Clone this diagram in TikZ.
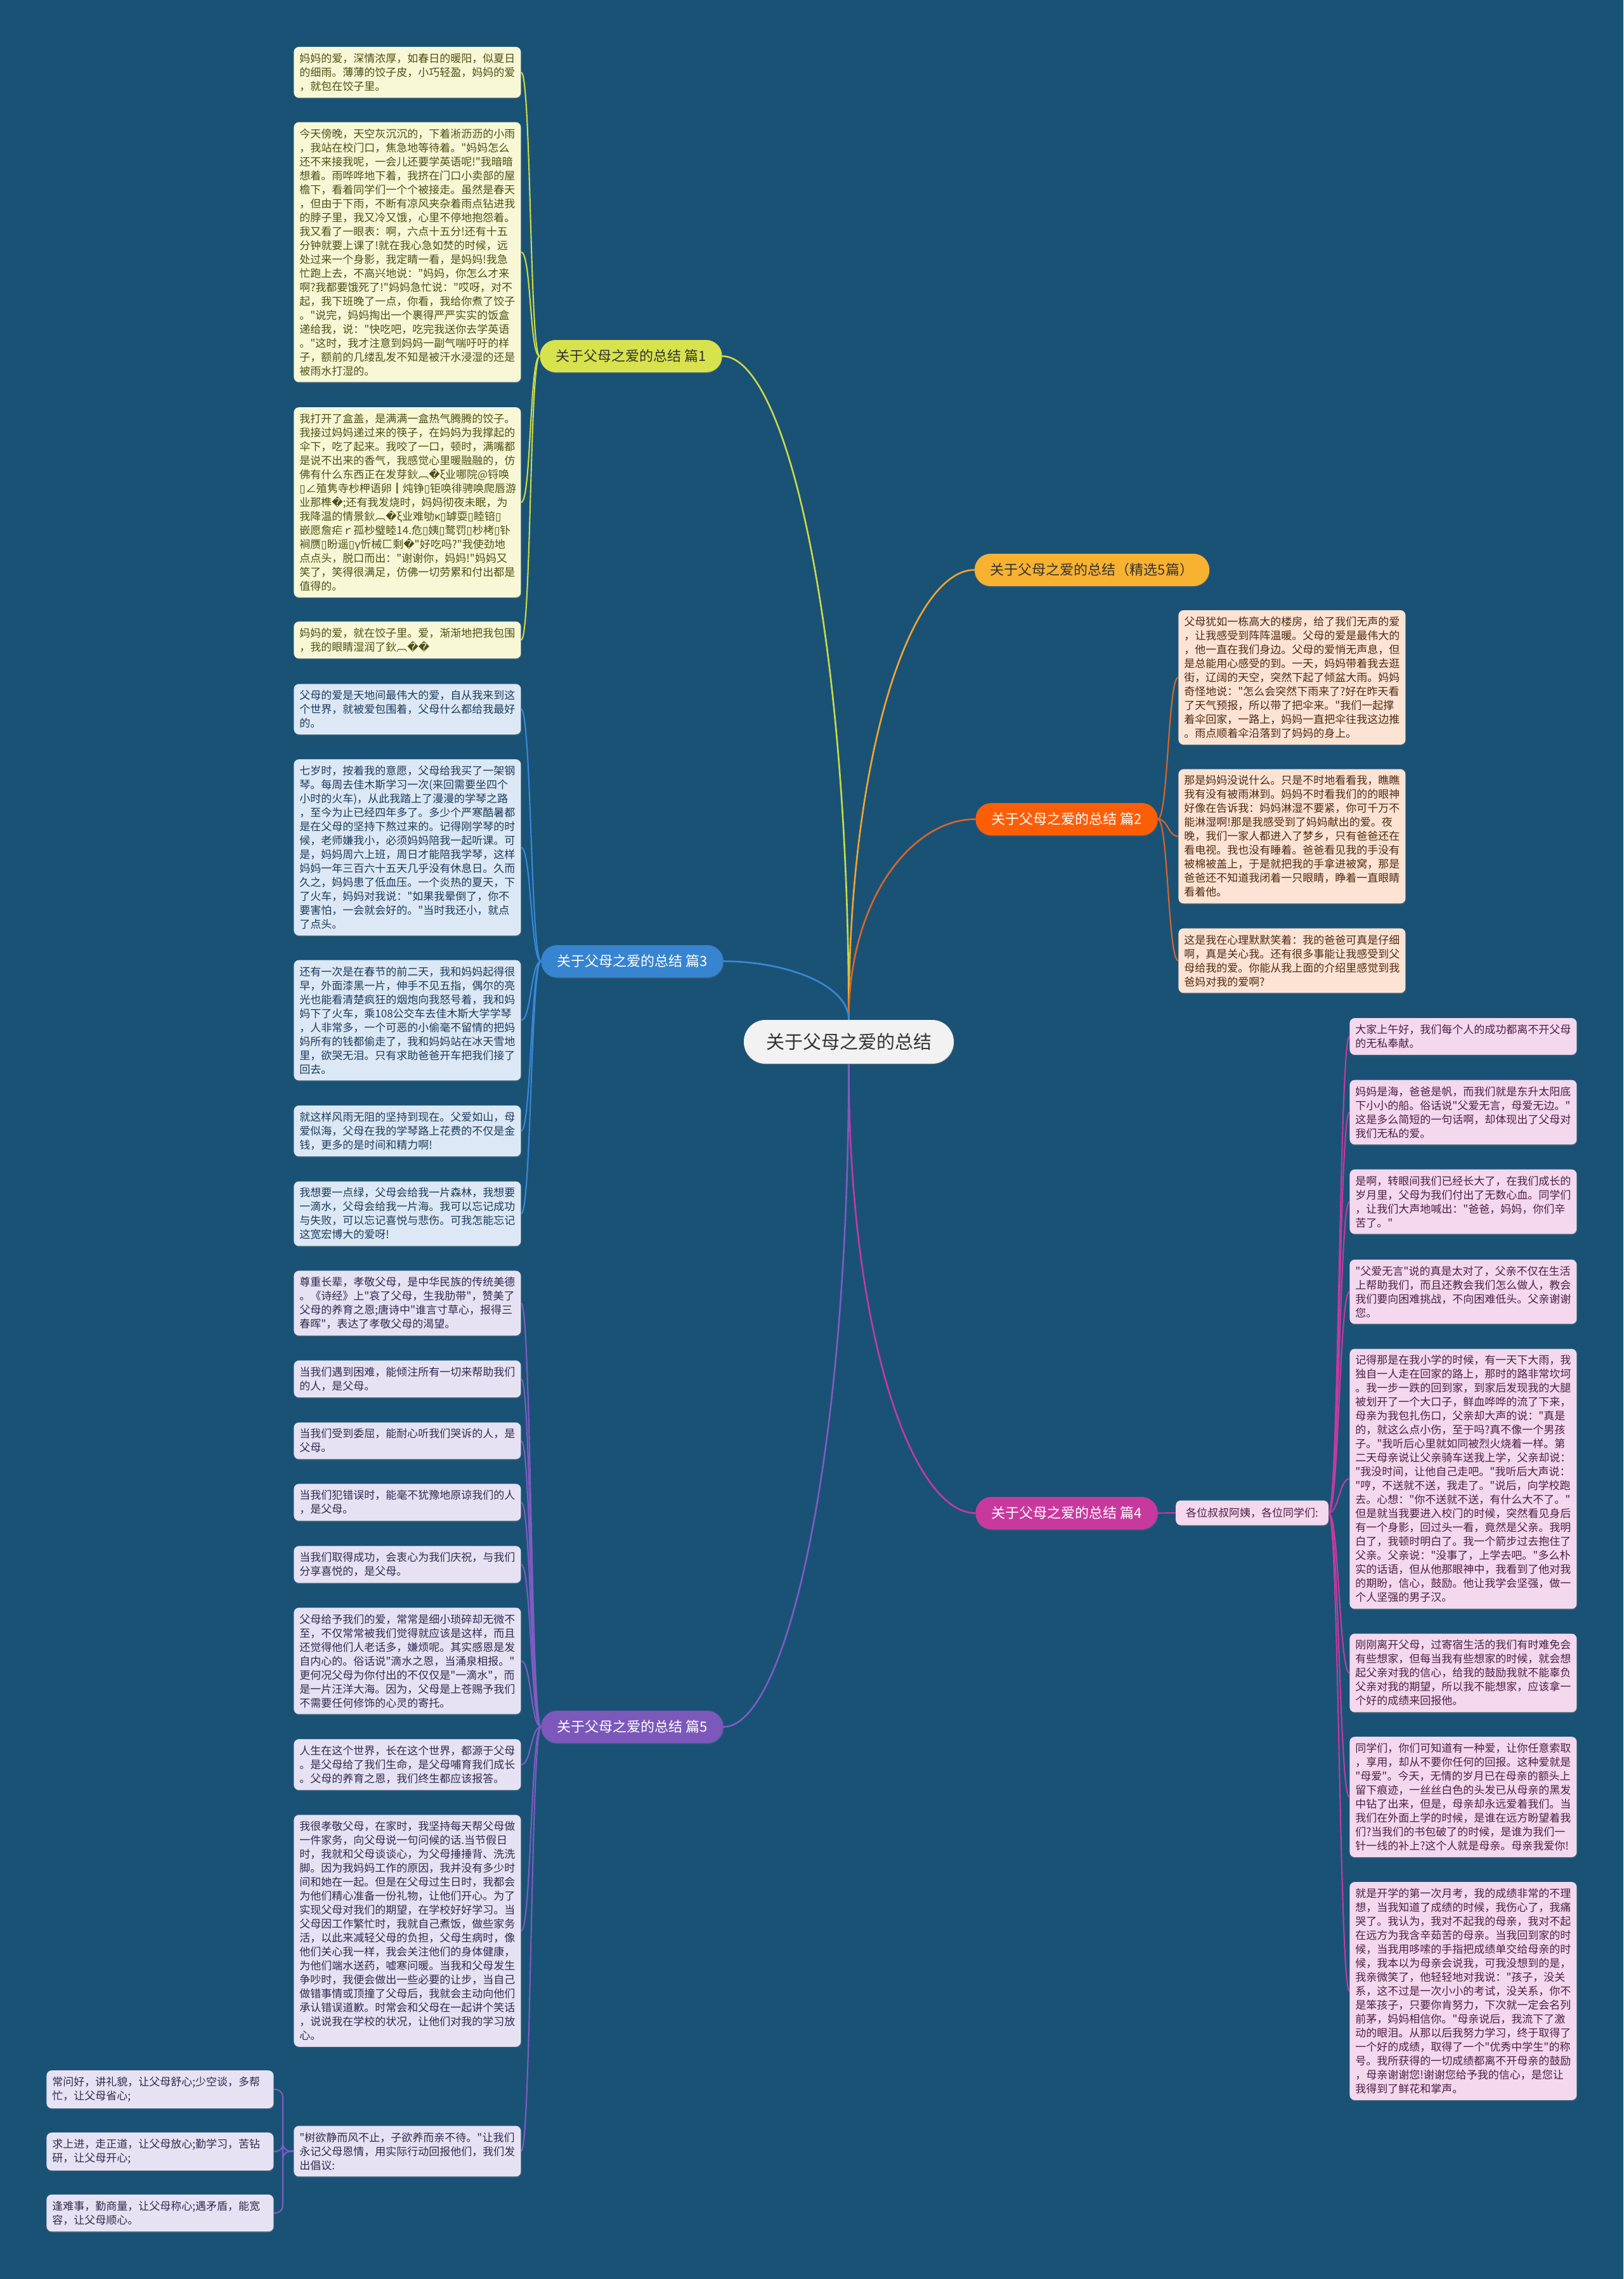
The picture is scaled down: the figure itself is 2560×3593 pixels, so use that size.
\documentclass[tikz,border=0pt]{standalone}
\usepackage{fontspec}
\usetikzlibrary{shadows}
\newfontfamily\cjk{Noto Sans CJK SC}
\newfontfamily\dejavu{DejaVu Sans}
\newcommand\rp{{\dejavu\char"FFFD}}
\newcommand\nd{{\dejavu\char"25AF}}
\pgfdeclarelayer{bgfill}
\pgfdeclarelayer{lines}
\pgfsetlayers{bgfill,lines,main}
\definecolor{bg}{HTML}{1A5276}
\definecolor{l1}{HTML}{CBDB45}
\definecolor{lj}{HTML}{F2A62E}
\definecolor{l2}{HTML}{DB6529}
\definecolor{l3}{HTML}{3A88D6}
\definecolor{l4}{HTML}{C53A9E}
\definecolor{l5}{HTML}{7E5CC2}
\definecolor{p1c}{HTML}{D8E24C}
\definecolor{pjc}{HTML}{F8B231}
\definecolor{p2c}{HTML}{FC5E08}
\definecolor{p3c}{HTML}{3784D0}
\definecolor{p4c}{HTML}{C8399E}
\definecolor{p5c}{HTML}{7C58BA}
\definecolor{f1}{HTML}{F8F8D6}
\definecolor{f2}{HTML}{FDE3D3}
\definecolor{f3}{HTML}{DCE8F5}
\definecolor{f4}{HTML}{F4D8EE}
\definecolor{f5}{HTML}{E6E2F3}
\definecolor{t1}{HTML}{4E4E16}
\definecolor{t2}{HTML}{4D2A14}
\definecolor{t3}{HTML}{1D3A5A}
\definecolor{t4}{HTML}{4A2042}
\definecolor{t5}{HTML}{2F2A4C}
\tikzset{
  tb/.style={rounded corners=4pt, inner xsep=4.5pt, inner ysep=5pt, text width=170pt,
    align=left, anchor=west, font=\cjk\fontsize{8.5}{11}\selectfont,
    drop shadow={shadow xshift=0.4pt, shadow yshift=-0.8pt, opacity=0.35}},
  b1/.style={tb, fill=f1, text=t1},
  b2/.style={tb, fill=f2, text=t2},
  b3/.style={tb, fill=f3, text=t3},
  b4/.style={tb, fill=f4, text=t4},
  b5/.style={tb, fill=f5, text=t5},
  lab/.style={rounded corners=12.5pt, minimum height=25.5pt, inner xsep=12.5pt, inner ysep=0pt,
    font=\cjk\fontsize{11}{13}\selectfont,
    drop shadow={shadow xshift=0.4pt, shadow yshift=-0.8pt, opacity=0.3}},
  ctr/.style={rounded corners=17pt, minimum height=34.5pt, minimum width=165.5pt, fill=black!5,
    text=black!80, font=\cjk\fontsize{14.5}{17}\selectfont,
    drop shadow={shadow xshift=0.4pt, shadow yshift=-0.8pt, opacity=0.3}},
  ml/.style={line width=1.3pt},
  sl/.style={line width=1.05pt},
}
\begin{document}
\begin{tikzpicture}[x=0.5pt,y=-0.5pt]
\begin{pgfonlayer}{bgfill}
\fill[bg] (0,0) rectangle (2560,3593);
\end{pgfonlayer}
\useasboundingbox (0,0) rectangle (2560,3593);

% center and labels
\node[ctr] (c) at (1338.5,1642.5) {关于父母之爱的总结};
\node[lab, fill=p1c, text=black!80] (p1) at (995,561.5) {关于父母之爱的总结 篇1};
\node[lab, fill=pjc, text=black!80] (pj) at (1722,898.5) {关于父母之爱的总结（精选5篇）};
\node[lab, fill=p2c, text=white] (p2) at (1682,1291.5) {关于父母之爱的总结 篇2};
\node[lab, fill=p3c, text=white] (p3) at (997,1515.5) {关于父母之爱的总结 篇3};
\node[lab, fill=p4c, text=white] (p4) at (1682,2385.5) {关于父母之爱的总结 篇4};
\node[lab, fill=p5c, text=white] (p5) at (997,2722.5) {关于父母之爱的总结 篇5};
\node[rounded corners=4pt, fill=f4, text=t4, inner xsep=8pt, inner ysep=0pt, minimum height=19.5pt,
  font=\cjk\fontsize{8.5}{11}\selectfont,
  drop shadow={shadow xshift=0.4pt, shadow yshift=-0.8pt, opacity=0.35}] (g) at (1974.5,2385) {各位叔叔阿姨，各位同学们:};

% ---------- 篇1 ----------
\node[b1] (a1) at (463,114) {妈妈的爱，深情浓厚，如春日的暖阳，似夏日\\的细雨。薄薄的饺子皮，小巧轻盈，妈妈的爱\\，就包在饺子里。};
\node[b1] (a2) at (463,397.5) {今天傍晚，天空灰沉沉的，下着淅沥沥的小雨\\，我站在校门口，焦急地等待着。"妈妈怎么\\还不来接我呢，一会儿还要学英语呢!"我暗暗\\想着。雨哗哗地下着，我挤在门口小卖部的屋\\檐下，看着同学们一个个被接走。虽然是春天\\，但由于下雨，不断有凉风夹杂着雨点钻进我\\的脖子里，我又冷又饿，心里不停地抱怨着。\\我又看了一眼表：啊，六点十五分!还有十五\\分钟就要上课了!就在我心急如焚的时候，远\\处过来一个身影，我定睛一看，是妈妈!我急\\忙跑上去，不高兴地说："妈妈，你怎么才来\\啊?我都要饿死了!"妈妈急忙说："哎呀，对不\\起，我下班晚了一点，你看，我给你煮了饺子\\。"说完，妈妈掏出一个裹得严严实实的饭盒\\递给我，说："快吃吧，吃完我送你去学英语\\。"这时，我才注意到妈妈一副气喘吁吁的样\\子，额前的几缕乱发不知是被汗水浸湿的还是\\被雨水打湿的。};
\node[b1] (a3) at (463,792) {我打开了盒盖，是满满一盒热气腾腾的饺子。\\我接过妈妈递过来的筷子，在妈妈为我撑起的\\伞下，吃了起来。我咬了一口，顿时，满嘴都\\是说不出来的香气，我感觉心里暖融融的，仿\\佛有什么东西正在发芽鈥︹\rp{}ξ业哪院@锊唤\\\nd{}∠殖隽寺杪柙语卵┃炖铮\nd{}钜唤徘骋唤爬唇游\\业那榫\rp{};还有我发烧时，妈妈彻夜未眠，为\\我降温的情景鈥︹\rp{}ξ业难劬κ\nd{}罅耍\nd{}睦锫\nd{}\\嵌愿詹疟ｒ孤杪璧睦14.危\nd{}姨\nd{}鹜罚\nd{}杪栲\nd{}钋\\裥赝\nd{}盼遥\nd{}γ忻械匚剩\rp{}"好吃吗?"我使劲地\\点点头，脱口而出："谢谢你，妈妈!"妈妈又\\笑了，笑得很满足，仿佛一切劳累和付出都是\\值得的。};
\node[b1] (a4) at (463,1009) {妈妈的爱，就在饺子里。爱，渐渐地把我包围\\，我的眼睛湿润了鈥︹\rp{}\rp{}};

% ---------- 篇3 ----------
\node[b3] (c1) at (463,1118) {父母的爱是天地间最伟大的爱，自从我来到这\\个世界，就被爱包围着，父母什么都给我最好\\的。};
\node[b3] (c2) at (463,1336) {七岁时，按着我的意愿，父母给我买了一架钢\\琴。每周去佳木斯学习一次(来回需要坐四个\\小时的火车)，从此我踏上了漫漫的学琴之路\\，至今为止已经四年多了。多少个严寒酷暑都\\是在父母的坚持下熬过来的。记得刚学琴的时\\候，老师嫌我小，必须妈妈陪我一起听课。可\\是，妈妈周六上班，周日才能陪我学琴，这样\\妈妈一年三百六十五天几乎没有休息日。久而\\久之，妈妈患了低血压。一个炎热的夏天，下\\了火车，妈妈对我说："如果我晕倒了，你不\\要害怕，一会就会好的。"当时我还小，就点\\了点头。};
\node[b3] (c3) at (463,1608.5) {还有一次是在春节的前二天，我和妈妈起得很\\早，外面漆黑一片，伸手不见五指，偶尔的亮\\光也能看清楚疯狂的烟炮向我怒号着，我和妈\\妈下了火车，乘108公交车去佳木斯大学学琴\\，人非常多，一个可恶的小偷毫不留情的把妈\\妈所有的钱都偷走了，我和妈妈站在冰天雪地\\里，欲哭无泪。只有求助爸爸开车把我们接了\\回去。};
\node[b3] (c4) at (463,1783) {就这样风雨无阻的坚持到现在。父爱如山，母\\爱似海，父母在我的学琴路上花费的不仅是金\\钱，更多的是时间和精力啊!};
\node[b3] (c5) at (463,1913.5) {我想要一点绿，父母会给我一片森林，我想要\\一滴水，父母会给我一片海。我可以忘记成功\\与失败，可以忘记喜悦与悲伤。可我怎能忘记\\这宽宏博大的爱呀!};

% ---------- 篇5 ----------
\node[b5] (e1) at (463,2054.5) {尊重长辈，孝敬父母，是中华民族的传统美德\\。《诗经》上"哀了父母，生我肋带"，赞美了\\父母的养育之恩;唐诗中"谁言寸草心，报得三\\春晖"，表达了孝敬父母的渴望。};
\node[b5] (e2) at (463,2174) {当我们遇到困难，能倾注所有一切来帮助我们\\的人，是父母。};
\node[b5] (e3) at (463,2271.5) {当我们受到委屈，能耐心听我们哭诉的人，是\\父母。};
\node[b5] (e4) at (463,2368.5) {当我们犯错误时，能毫不犹豫地原谅我们的人\\，是父母。};
\node[b5] (e5) at (463,2466.5) {当我们取得成功，会衷心为我们庆祝，与我们\\分享喜悦的，是父母。};
\node[b5] (e6) at (463,2618.5) {父母给予我们的爱，常常是细小琐碎却无微不\\至，不仅常常被我们觉得就应该是这样，而且\\还觉得他们人老话多，嫌烦呢。其实感恩是发\\自内心的。俗话说"滴水之恩，当涌泉相报。"\\更何况父母为你付出的不仅仅是"一滴水"，而\\是一片汪洋大海。因为，父母是上苍赐予我们\\不需要任何修饰的心灵的寄托。};
\node[b5] (e7) at (463,2782) {人生在这个世界，长在这个世界，都源于父母\\。是父母给了我们生命，是父母哺育我们成长\\。父母的养育之恩，我们终生都应该报答。};
\node[b5] (e8) at (463,3044) {我很孝敬父母，在家时，我坚持每天帮父母做\\一件家务，向父母说一句问候的话.当节假日\\时，我就和父母谈谈心，为父母捶捶背、洗洗\\脚。因为我妈妈工作的原因，我并没有多少时\\间和她在一起。但是在父母过生日时，我都会\\为他们精心准备一份礼物，让他们开心。为了\\实现父母对我们的期望，在学校好好学习。当\\父母因工作繁忙时，我就自己煮饭，做些家务\\活，以此来减轻父母的负担，父母生病时，像\\他们关心我一样，我会关注他们的身体健康，\\为他们端水送药，嘘寒问暖。当我和父母发生\\争吵时，我便会做出一些必要的让步，当自己\\做错事情或顶撞了父母后，我就会主动向他们\\承认错误道歉。时常会和父母在一起讲个笑话\\，说说我在学校的状况，让他们对我的学习放\\心。};
\node[b5] (e9) at (463,3391.5) {"树欲静而风不止，子欲养而亲不待。"让我们\\永记父母恩情，用实际行动回报他们，我们发\\出倡议:};
\node[b5] (s1) at (73,3294) {常问好，讲礼貌，让父母舒心;少空谈，多帮\\忙，让父母省心;};
\node[b5] (s2) at (73,3392) {求上进，走正道，让父母放心;勤学习，苦钻\\研，让父母开心;};
\node[b5] (s3) at (73,3489) {逢难事，勤商量，让父母称心;遇矛盾，能宽\\容，让父母顺心。};
\coordinate (j5) at (446,3391.5);

% ---------- 篇2 ----------
\node[b2] (d1) at (1858,1068) {父母犹如一栋高大的楼房，给了我们无声的爱\\，让我感受到阵阵温暖。父母的爱是最伟大的\\，他一直在我们身边。父母的爱悄无声息，但\\是总能用心感受的到。一天，妈妈带着我去逛\\街，辽阔的天空，突然下起了倾盆大雨。妈妈\\奇怪地说："怎么会突然下雨来了?好在昨天看\\了天气预报，所以带了把伞来。"我们一起撑\\着伞回家，一路上，妈妈一直把伞往我这边推\\。雨点顺着伞沿落到了妈妈的身上。};
\node[b2] (d2) at (1858,1318.5) {那是妈妈没说什么。只是不时地看看我，瞧瞧\\我有没有被雨淋到。妈妈不时看我们的的眼神\\好像在告诉我：妈妈淋湿不要紧，你可千万不\\能淋湿啊!那是我感受到了妈妈献出的爱。夜\\晚，我们一家人都进入了梦乡，只有爸爸还在\\看电视。我也没有睡着。爸爸看见我的手没有\\被棉被盖上，于是就把我的手拿进被窝，那是\\爸爸还不知道我闭着一只眼睛，睁着一直眼睛\\看着他。};
\node[b2] (d3) at (1858,1514.5) {这是我在心理默默笑着：我的爸爸可真是仔细\\啊，真是关心我。还有很多事能让我感受到父\\母给我的爱。你能从我上面的介绍里感觉到我\\爸妈对我的爱啊?};

% ---------- 篇4 ----------
\node[b4] (f1) at (2128,1634) {大家上午好，我们每个人的成功都离不开父母\\的无私奉献。};
\node[b4] (f2) at (2128,1753.5) {妈妈是海，爸爸是帆，而我们就是东升太阳底\\下小小的船。俗话说"父爱无言，母爱无边。"\\这是多么简短的一句话啊，却体现出了父母对\\我们无私的爱。};
\node[b4] (f3) at (2128,1894.5) {是啊，转眼间我们已经长大了，在我们成长的\\岁月里，父母为我们付出了无数心血。同学们\\，让我们大声地喊出："爸爸，妈妈，你们辛\\苦了。"};
\node[b4] (f4) at (2128,2036.5) {"父爱无言"说的真是太对了，父亲不仅在生活\\上帮助我们，而且还教会我们怎么做人，教会\\我们要向困难挑战，不向困难低头。父亲谢谢\\您。};
\node[b4] (f5) at (2128,2331.5) {记得那是在我小学的时候，有一天下大雨，我\\独自一人走在回家的路上，那时的路非常坎坷\\。我一步一跌的回到家，到家后发现我的大腿\\被划开了一个大口子，鲜血哗哗的流了下来，\\母亲为我包扎伤口，父亲却大声的说："真是\\的，就这么点小伤，至于吗?真不像一个男孩\\子。"我听后心里就如同被烈火烧着一样。第\\二天母亲说让父亲骑车送我上学，父亲却说：\\"我没时间，让他自己走吧。"我听后大声说：\\"哼，不送就不送，我走了。"说后，向学校跑\\去。心想："你不送就不送，有什么大不了。"\\但是就当我要进入校门的时候，突然看见身后\\有一个身影，回过头一看，竟然是父亲。我明\\白了，我顿时明白了。我一个箭步过去抱住了\\父亲。父亲说："没事了，上学去吧。"多么朴\\实的话语，但从他那眼神中，我看到了他对我\\的期盼，信心，鼓励。他让我学会坚强，做一\\个人坚强的男子汉。};
\node[b4] (f6) at (2128,2637.5) {刚刚离开父母，过寄宿生活的我们有时难免会\\有些想家，但每当我有些想家的时候，就会想\\起父亲对我的信心，给我的鼓励我就不能辜负\\父亲对我的期望，所以我不能想家，应该拿一\\个好的成绩来回报他。};
\node[b4] (f7) at (2128,2833) {同学们，你们可知道有一种爱，让你任意索取\\，享用，却从不要你任何的回报。这种爱就是\\"母爱"。今天，无情的岁月已在母亲的额头上\\留下痕迹，一丝丝白色的头发已从母亲的黑发\\中钻了出来，但是，母亲却永远爱着我们。当\\我们在外面上学的时候，是谁在远方盼望着我\\们?当我们的书包破了的时候，是谁为我们一\\针一线的补上?这个人就是母亲。母亲我爱你!};
\node[b4] (f8) at (2128,3139) {就是开学的第一次月考，我的成绩非常的不理\\想，当我知道了成绩的时候，我伤心了，我痛\\哭了。我认为，我对不起我的母亲，我对不起\\在远方为我含辛茹苦的母亲。当我回到家的时\\候，当我用哆嗦的手指把成绩单交给母亲的时\\候，我本以为母亲会说我，可我没想到的是，\\我亲微笑了，他轻轻地对我说："孩子，没关\\系，这不过是一次小小的考试，没关系，你不\\是笨孩子，只要你肯努力，下次就一定会名列\\前茅，妈妈相信你。"母亲说后，我流下了激\\动的眼泪。从那以后我努力学习，终于取得了\\一个好的成绩，取得了一个"优秀中学生"的称\\号。我所获得的一切成绩都离不开母亲的鼓励\\，母亲谢谢您!谢谢您给予我的信心，是您让\\我得到了鲜花和掌声。};

% ---------- connectors ----------
\begin{pgfonlayer}{lines}
% from the center
\draw[ml, l1] (c.north) .. controls (1338,980) and (1238,561.5) .. (p1.east);
\draw[ml, lj] (c.north) .. controls (1338,1182) and (1439,898.5) .. (pj.west);
\draw[ml, l2] (c.north) .. controls (1338,1418) and (1438,1291.5) .. (p2.west);
\draw[ml, l3] (c.north) .. controls (1338,1552) and (1239,1515.5) .. (p3.east);
\draw[ml, l4] (c.south) .. controls (1338,2102) and (1439,2385.5) .. (p4.west);
\draw[ml, l5] (c.south) .. controls (1338,2305) and (1239,2722.5) .. (p5.east);
% children
\foreach \n in {a1,a2,a3,a4}
  \draw[sl, l1] (p1.west) .. controls +(-16,0) and +(16,0) .. (\n.east);
\foreach \n in {c1,c2,c3,c4,c5}
  \draw[sl, l3] (p3.west) .. controls +(-16,0) and +(16,0) .. (\n.east);
\foreach \n in {e1,e2,e3,e4,e5,e6,e7,e8,e9}
  \draw[sl, l5] (p5.west) .. controls +(-16,0) and +(16,0) .. (\n.east);
\foreach \n in {s1,s2,s3}
  \draw[sl, l5, rounded corners=6pt] (e9.west) -- (j5) |- (\n.east);
\foreach \n in {d1,d2,d3}
  \draw[sl, l2] (p2.east) .. controls +(16,0) and +(-16,0) .. (\n.west);
\draw[sl, l4] (p4.east) -- (g.west);
\foreach \n in {f1,f2,f3,f4,f5,f6,f7,f8}
  \draw[sl, l4] (g.east) .. controls +(16,0) and +(-16,0) .. (\n.west);
\end{pgfonlayer}
\end{tikzpicture}
\end{document}
